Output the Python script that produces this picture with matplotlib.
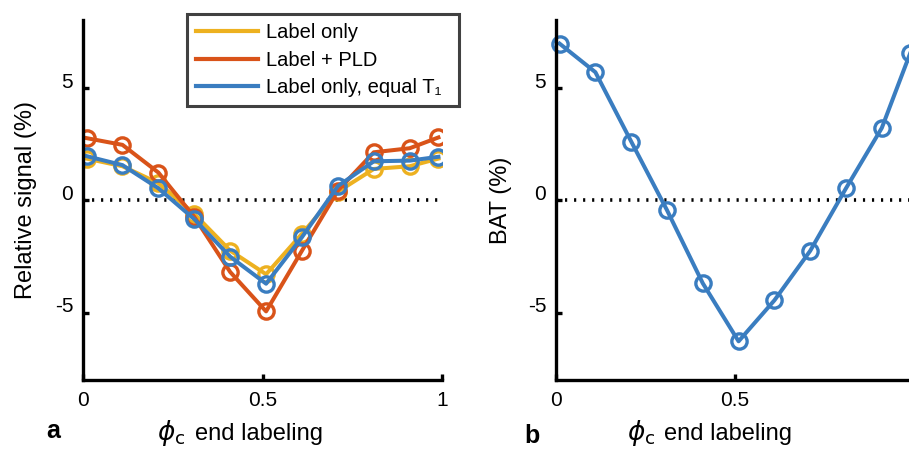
import matplotlib
matplotlib.use("Agg")
import matplotlib.pyplot as plt
from matplotlib.lines import Line2D

plt.rcParams['font.family'] = ['Liberation Sans', 'DejaVu Sans']
plt.rcParams['mathtext.fontset'] = 'dejavusans'

# Data
phase = [0.01, 0.11, 0.21, 0.31, 0.41, 0.51, 0.61, 0.71, 0.81, 0.91, 0.99]
label_only = [1.84, 1.50, 0.75, -0.62, -2.25, -3.30, -1.50, 0.37, 1.38, 1.50, 1.84]
label_pld = [2.75, 2.45, 1.22, -0.75, -3.20, -4.95, -2.25, 0.42, 2.12, 2.30, 2.78]
label_eqT1 = [1.95, 1.55, 0.52, -0.85, -2.52, -3.72, -1.65, 0.62, 1.72, 1.75, 1.92]
bat = [6.95, 5.68, 2.60, -0.45, -3.70, -6.28, -4.46, -2.26, 0.52, 3.20, 6.55]

series_names = ['Label only', 'Label + PLD', 'Label only, equal T\u2081']
series_colors = ['#EDB120', '#D95319', '#3A7DC0']

xticks = [0, 0.5, 1]
xticklabels = ['0', '0.5', '1']
yticks = [-5, 0, 5]
yticklabels = ['-5', '0', '5']

W, H = 909, 450
fig = plt.figure(figsize=(W / 100, H / 100), dpi=100)

axA = fig.add_axes([83 / W, 1 - 380 / H, 359 / W, 360 / H])
axB = fig.add_axes([556 / W, 1 - 380 / H, 358 / W, 360 / H])


def style(ax):
    ax.set_xlim(0, 1)
    ax.set_ylim(-8, 8)
    for s in ['top', 'right']:
        ax.spines[s].set_visible(False)
    for s in ['left', 'bottom']:
        ax.spines[s].set_linewidth(2.4)
    ax.set_xticks(xticks)
    ax.set_xticklabels(xticklabels)
    ax.set_yticks(yticks)
    ax.set_yticklabels(yticklabels)
    ax.tick_params(direction='in', length=4, width=2.4, labelsize=15)
    ax.tick_params(axis='x', pad=8)
    ax.tick_params(axis='y', pad=7)
    for lab in ax.get_yticklabels():
        lab.set_va('baseline')
    ax.plot([0, 1], [0, 0], linestyle=(0, (0.6, 1.9)), color='black', lw=2.6,
            zorder=1)


style(axA)
style(axB)

mk = dict(marker='o', markersize=11, markerfacecolor='none', markeredgewidth=2.4,
          lw=2.9)
for vals, name, col in zip([label_only, label_pld, label_eqT1], series_names,
                           series_colors):
    axA.plot(phase, vals, color=col, markeredgecolor=col, label=name, **mk)

axB.plot(phase, bat, color=series_colors[2], markeredgecolor=series_colors[2],
         clip_on=False, **mk)

leg_handles = [Line2D([0], [0], color=c, lw=3.0) for c in series_colors]
leg = axA.legend(leg_handles, series_names, loc='upper left',
                 bbox_to_anchor=(187 / W, 1 - 110 / H, 272 / W, 96 / H),
                 bbox_transform=fig.transFigure, mode='expand',
                 fontsize=14.5, frameon=True, fancybox=False, handlelength=3.1,
                 handletextpad=0.35, borderpad=0.45, labelspacing=0.43,
                 borderaxespad=0)
leg.get_frame().set_edgecolor('#111111')
leg.get_frame().set_linewidth(2.2)
leg.set_zorder(10)

axA.set_ylabel('Relative signal (%)', fontsize=17, labelpad=13)
axB.set_ylabel('BAT (%)', fontsize=17, labelpad=11)

# x labels: phi_c + "end labeling"
for phi_x, txt_x in [(157, 195), (627, 664)]:
    fig.text(phi_x / W, 1 - 440 / H, r'$\phi_{\mathrm{c}}$', fontsize=19,
             ha='left', va='baseline')
    fig.text(txt_x / W, 1 - 440 / H, 'end labeling', fontsize=17,
             ha='left', va='baseline')

fig.text(53 / W, 1 - 438 / H, 'a', fontsize=18, fontweight='bold', ha='center',
         va='baseline')
fig.text(532 / W, 1 - 443 / H, 'b', fontsize=18, fontweight='bold', ha='center',
         va='baseline')

fig.savefig('out.png', dpi=100)
